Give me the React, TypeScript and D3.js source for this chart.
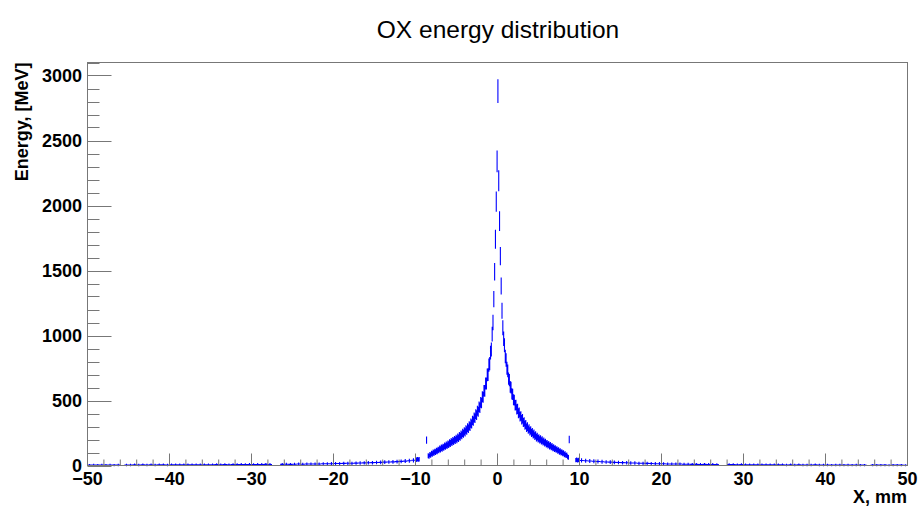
import React from 'react';
import * as d3 from 'd3';

// energy deposit per bin
// left tail: -50..-10 mm, 0.5 mm bins
const leftTailValues = [
  3, 4, 3, 4, 3, 4, 3, 4, 0, 4,
  4, 5, 4, 5, 4, 5, 4, 5, 5, 4,
  5, 5, 6, 5, 6, 5, 6, 6, 5, 6,
  6, 7, 6, 7, 6, 7, 7, 8, 7, 8,
  7, 8, 8, 9, 8, 0, 0, 9, 10, 9,
  10, 11, 10, 11, 12, 11, 12, 13, 13, 14,
  15, 15, 16, 17, 17, 18, 19, 20, 21, 22,
  23, 24, 26, 27, 28, 30, 32, 34, 37, 40,
];

// core: -10..10 mm, 0.1 mm bins
const coreValues = [
  47, 44, 49, 45, 48,
  0, 0, 0, 0, 0, 0, 0, 0,
  195,
  0,
  75, 71, 84, 80, 92, 88, 101, 95, 107, 103, 114, 110, 121, 117, 129, 124,
  136, 131, 143, 138, 151, 146, 158, 152, 166, 160,
  174, 169, 183, 177, 191, 185, 199, 193, 208, 200,
  217, 210, 227, 220, 238, 232, 251, 244, 263, 255,
  277, 269, 291, 283, 306, 299, 326, 319, 347, 341,
  370, 363, 395, 387, 421, 414, 452, 444, 486, 481,
  529, 525, 575, 574, 631, 630, 697, 699, 772, 783,
  868, 892, 1010, 1100, 1280, 1490, 1740, 2030, 2340,
  2880,
  2190, 1880, 1610, 1380, 1190, 1060, 975, 925, 838,
  812, 748, 728, 668, 657, 604, 599, 551, 547, 506,
  503, 464, 466, 431, 436, 402, 407, 376, 381, 352,
  360, 331, 336, 310, 316, 290, 299, 276, 284, 262,
  270, 250, 257, 238, 245, 226, 233, 215, 222, 206,
  212, 197, 204, 189, 196, 181, 188, 173, 179, 165,
  170, 157, 162, 149, 154, 142, 147, 135, 139, 128,
  132, 121, 125, 114, 117, 106, 110, 99, 103, 93,
  96, 85, 88, 77, 79, 67, 62,
  200,
  0, 0, 0, 0, 0, 0, 0,
  41, 44, 40, 43, 39,
];

// right tail: 10..50 mm, 0.5 mm bins
const rightTailValues = [
  39, 37, 35, 33, 31, 29, 27, 26, 24, 23,
  22, 21, 19, 19, 17, 17, 16, 15, 14, 14,
  13, 12, 12, 11, 11, 10, 10, 9, 9, 8,
  9, 8, 8, 7, 0, 0, 7, 7, 6, 7,
  6, 6, 6, 5, 6, 5, 5, 5, 5, 5,
  4, 5, 4, 5, 4, 4, 4, 5, 4, 4,
  4, 3, 4, 4, 3, 4, 3, 4, 3, 3,
  0, 3, 3, 3, 3, 2, 3, 3, 3, 2,
];

const xTicks = [-50, -40, -30, -20, -10, 0, 10, 20, 30, 40, 50];
const yTicks = [0, 500, 1000, 1500, 2000, 2500, 3000];

const W = 920;
const H = 506;
const frame = { left: 87.5, right: 907.5, top: 62.5, bottom: 465.5 };
const font = '"Liberation Sans", Arial, Helvetica, sans-serif';

type Bin = { lo: number; hi: number; v: number };

function makeBins(values: number[], start: number, width: number): Bin[] {
  return values.map((v, i) => ({ lo: start + i * width, hi: start + (i + 1) * width, v }));
}

export default function App() {
  const x = d3.scaleLinear().domain([-50, 50]).range([frame.left, frame.right]);
  const y = d3.scaleLinear().domain([0, 3100]).range([frame.bottom, frame.top]);

  const bins = [
    ...makeBins(leftTailValues, -50, 0.5),
    ...makeBins(coreValues, -10, 0.1),
    ...makeBins(rightTailValues, 10, 0.5),
  ].filter((b) => b.v > 0);

  // ROOT "E" style: vertical error bar + horizontal bin-width line
  const path = d3.path();
  bins.forEach((b) => {
    const e = 1.6 * Math.sqrt(b.v) + 6;
    const xc = x((b.lo + b.hi) / 2);
    path.moveTo(xc, y(b.v - e));
    path.lineTo(xc, y(b.v + e));
    path.moveTo(x(b.lo), y(b.v));
    path.lineTo(x(b.hi), y(b.v));
  });

  const xMinor = d3.range(-50, 50.001, 2);
  const yMinor = d3.range(0, 3100.001, 100);
  const axisColor = '#777';
  const fmt = (v: number) => (v < 0 ? '\u2212' + Math.abs(v) : String(v));

  return (
    <svg
      width={W}
      height={H}
      style={{ position: 'absolute', left: 0, top: 0, background: '#fff' }}
      fontFamily={font}
    >
      <rect width={W} height={H} fill="#fff" />
      <text x={498} y={38} textAnchor="middle" fontSize={24.5}>
        OX energy distribution
      </text>

      <path d={path.toString()} fill="none" stroke="#0000ff" strokeWidth={1.1} />

      <rect
        x={frame.left}
        y={frame.top}
        width={frame.right - frame.left}
        height={frame.bottom - frame.top}
        fill="none"
        stroke={axisColor}
      />

      {xMinor.map((t) => (
        <line
          key={'xm' + t}
          x1={x(t)}
          x2={x(t)}
          y1={frame.bottom}
          y2={frame.bottom - (t % 10 === 0 ? 12 : 6)}
          stroke={axisColor}
        />
      ))}
      {yMinor.map((t) => (
        <line
          key={'ym' + t}
          x1={frame.left}
          x2={frame.left + (t % 500 === 0 ? 24 : 12)}
          y1={Math.round(y(t)) + 0.5}
          y2={Math.round(y(t)) + 0.5}
          stroke={axisColor}
        />
      ))}

      {xTicks.map((t) => (
        <text key={'xl' + t} x={x(t)} y={485} textAnchor="middle" fontSize={18} fontWeight="bold">
          {fmt(t)}
        </text>
      ))}
      {yTicks.map((t) => (
        <text
          key={'yl' + t}
          x={82}
          y={y(t)}
          dy="0.35em"
          textAnchor="end"
          fontSize={18}
          fontWeight="bold"
        >
          {fmt(t)}
        </text>
      ))}

      <text x={907} y={503} textAnchor="end" fontSize={18} fontWeight="bold">
        X, mm
      </text>
      <text
        transform={`translate(28, ${frame.top}) rotate(-90)`}
        textAnchor="end"
        fontSize={18}
        fontWeight="bold"
      >
        Energy, [MeV]
      </text>
    </svg>
  );
}
